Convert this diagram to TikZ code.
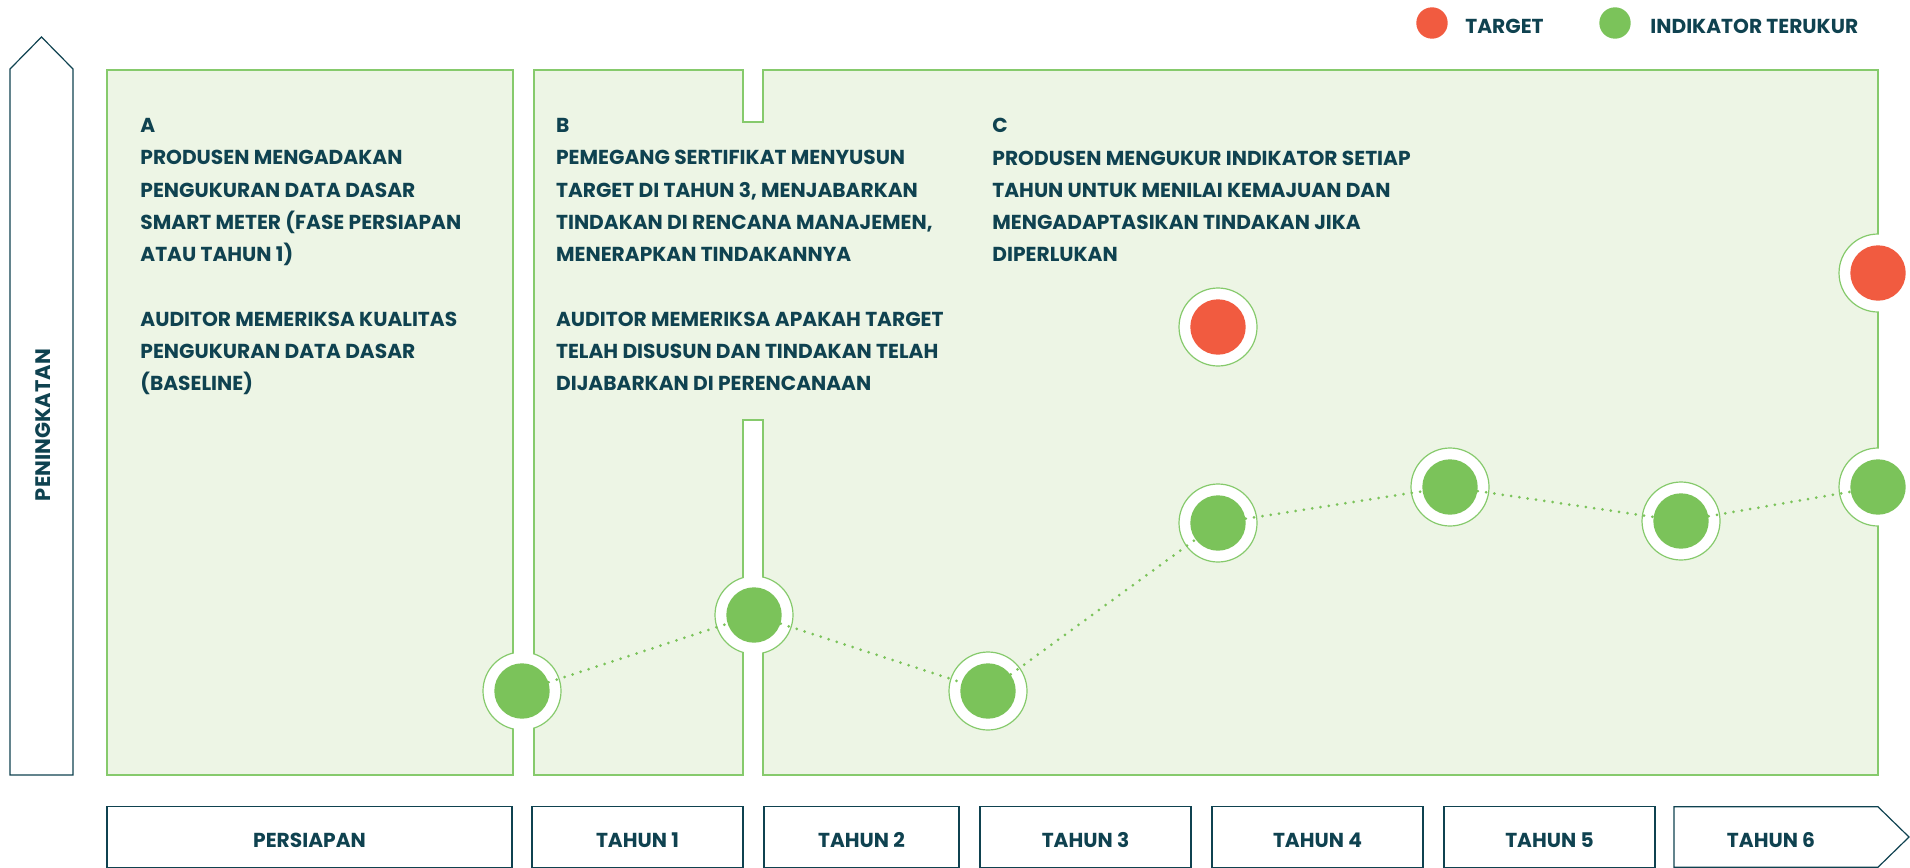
\documentclass[tikz,border=0pt]{standalone}
\usepackage{fontspec}
\setmainfont{Poppins}
\definecolor{ink}{HTML}{0F4250}
\definecolor{leaf}{HTML}{7BC35A}
\definecolor{leafline}{HTML}{86CA6C}
\definecolor{pale}{HTML}{EDF5E5}
\definecolor{tomato}{HTML}{F15B40}
\tikzset{
  panel/.style={fill=pale, draw=leafline, line width=0.75pt},
  halo/.style={circle, fill=white, draw=leafline, line width=0.6pt, minimum size=39pt, inner sep=0pt},
  gdot/.style={circle, fill=leaf, minimum size=27.7pt, inner sep=0pt},
  rdot/.style={circle, fill=tomato, minimum size=27.7pt, inner sep=0pt},
  keydot/.style={circle, minimum size=15.7pt, inner sep=0pt},
  trend/.style={leaf, line width=1.5pt, line cap=round, dash pattern=on 0pt off 4.2pt},
  yearbox/.style={draw=ink, line width=0.6pt, minimum height=30.3pt, text height=10.4pt, text depth=0pt, inner sep=0pt, text=ink, font=\bfseries\fontsize{10.1}{12}\selectfont},
  blurb/.style={anchor=north west, align=left, inner sep=0pt, text=ink, font=\bfseries\fontsize{10.1}{16.15}\selectfont},
  keytext/.style={anchor=base west, inner sep=0pt, text=ink, font=\bfseries\fontsize{10.1}{12}\selectfont},
}
\begin{document}
\begin{tikzpicture}[x=0.5pt, y=-0.5pt]
    \useasboundingbox (0,0) rectangle (1910,867);
    \clip (0,0) rectangle (1910,867);
    % panels
    \draw[panel] (107,70) rectangle (513,775);
    \draw[panel] (534,70) -- (743,70) -- (743,122) -- (763,122) -- (763,70) -- (1878,70)
        -- (1878,775) -- (763,775) -- (763,420) -- (743,420) -- (743,775) -- (534,775) -- cycle;
    % halos round the points
    \node[halo] (h1) at (522,691) {};
    \node[halo] (h2) at (754,615) {};
    \node[halo] (h3) at (988,691) {};
    \node[halo] (h4) at (1218,523) {};
    \node[halo] (h5) at (1450,487) {};
    \node[halo] (h6) at (1681,521) {};
    \node[halo] (h7) at (1878,487) {};
    \node[halo] (ht1) at (1218,327) {};
    \node[halo] (ht2) at (1878,273) {};
    \fill[white] (513.8,71) rectangle (533.2,774);
    \fill[white] (743.8,421) rectangle (762.2,774);
    \fill[white] (1878.8,60) rectangle (1910,780);
    % measured points and targets
    \node[gdot] (m1) at (h1) {};
    \node[gdot] (m2) at (h2) {};
    \node[gdot] (m3) at (h3) {};
    \node[gdot] (m4) at (h4) {};
    \node[gdot] (m5) at (h5) {};
    \node[gdot] (m6) at (h6) {};
    \node[gdot] (m7) at (h7) {};
    \node[rdot] (t1) at (ht1) {};
    \node[rdot] (t2) at (ht2) {};
    \draw[trend] (m1) -- (m2) -- (m3) -- (m4) -- (m5) -- (m6) -- (m7);
    % texts
    \node[blurb] (a) at (140,118) {A\\PRODUSEN MENGADAKAN\\PENGUKURAN DATA DASAR\\SMART METER (FASE PERSIAPAN\\ATAU TAHUN 1)\\[16.15pt]AUDITOR MEMERIKSA KUALITAS\\PENGUKURAN DATA DASAR\\(BASELINE)};
    \node[blurb] (b) at (555.7,118) {B\\PEMEGANG SERTIFIKAT MENYUSUN\\TARGET DI TAHUN 3, MENJABARKAN\\TINDAKAN DI RENCANA MANAJEMEN,\\MENERAPKAN TINDAKANNYA\\[16.15pt]AUDITOR MEMERIKSA APAKAH TARGET\\TELAH DISUSUN DAN TINDAKAN TELAH\\DIJABARKAN DI PERENCANAAN};
    \node[blurb] (c) at (992,118) {C\\PRODUSEN MENGUKUR INDIKATOR SETIAP\\TAHUN UNTUK MENILAI KEMAJUAN DAN\\MENGADAPTASIKAN TINDAKAN JIKA\\DIPERLUKAN};
    % legend
    \node[keydot, fill=tomato] (kt) at (1432,23) {};
    \node[keytext] (ktl) at (1465,33.3) {TARGET};
    \node[keydot, fill=leaf] (km) at (1615,23) {};
    \node[keytext] (kml) at (1650,33.3) {INDIKATOR TERUKUR};
    % axis arrow
    \draw[ink, line width=0.6pt] (10,775) -- (10,69) -- (41.5,37) -- (73,69) -- (73,775) -- cycle;
    \node[rotate=90, inner sep=0pt, text=ink, font=\bfseries\fontsize{10.5}{12}\selectfont] (axis) at (43,425) {PENINGKATAN};
    % years
    \node[yearbox, minimum width=202.5pt] (y0) at (309.5,837) {PERSIAPAN};
    \node[yearbox, minimum width=105.5pt] (y1) at (637.5,837) {TAHUN 1};
    \node[yearbox, minimum width=97.5pt] (y2) at (861.5,837) {TAHUN 2};
    \node[yearbox, minimum width=105.5pt] (y3) at (1085.5,837) {TAHUN 3};
    \node[yearbox, minimum width=105.5pt] (y4) at (1317.5,837) {TAHUN 4};
    \node[yearbox, minimum width=105.5pt] (y5) at (1549.5,837) {TAHUN 5};
    \draw[ink, line width=0.6pt] (1674,806.8) -- (1878,806.8) -- (1909,837) -- (1878,867.2) -- (1674,867.2) -- cycle;
    \node[yearbox, draw=none] (y6) at (1771,837) {TAHUN 6};
\end{tikzpicture}
\end{document}
